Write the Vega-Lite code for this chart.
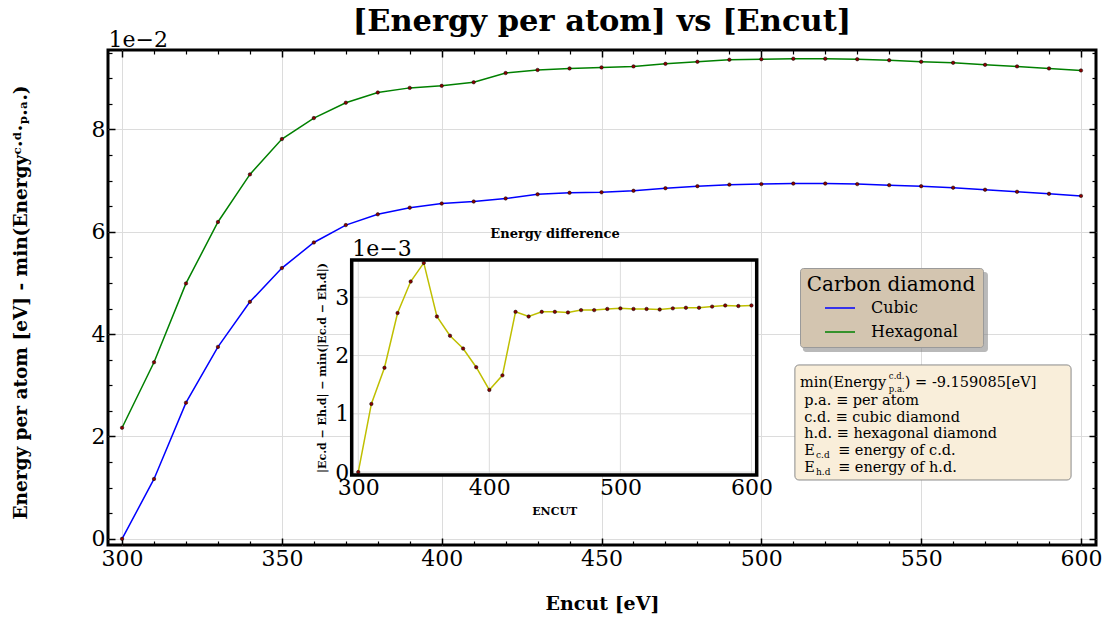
{
  "$schema": "https://vega.github.io/schema/vega-lite/v6.json",
  "width": 988,
  "height": 495,
  "autosize": "none",
  "padding": {"left": 108, "top": 50, "right": 15, "bottom": 73},
  "config": {
    "font": "DejaVu Serif",
    "view": {"stroke": "black", "strokeWidth": 3},
    "axis": {"labelFont": "DejaVu Serif", "titleFont": "DejaVu Serif", "labelColor": "black", "titleColor": "black", "tickColor": "black", "domain": false}
  },
  "title": {"text": "[Energy per atom] vs [Encut]", "font": "DejaVu Serif", "fontSize": 30.5, "fontWeight": "bold", "color": "black", "anchor": "middle", "baseline": "middle", "offset": -24},
  "datasets": {
    "main": [
      {"encut": 300, "structure": "Cubic", "e": 0.0},
      {"encut": 310, "structure": "Cubic", "e": 0.0117},
      {"encut": 320, "structure": "Cubic", "e": 0.0266},
      {"encut": 330, "structure": "Cubic", "e": 0.0375},
      {"encut": 340, "structure": "Cubic", "e": 0.0463},
      {"encut": 350, "structure": "Cubic", "e": 0.0529},
      {"encut": 360, "structure": "Cubic", "e": 0.0579},
      {"encut": 370, "structure": "Cubic", "e": 0.0613},
      {"encut": 380, "structure": "Cubic", "e": 0.0634},
      {"encut": 390, "structure": "Cubic", "e": 0.0647},
      {"encut": 400, "structure": "Cubic", "e": 0.0655},
      {"encut": 410, "structure": "Cubic", "e": 0.0659},
      {"encut": 420, "structure": "Cubic", "e": 0.0665},
      {"encut": 430, "structure": "Cubic", "e": 0.0673},
      {"encut": 440, "structure": "Cubic", "e": 0.0676},
      {"encut": 450, "structure": "Cubic", "e": 0.0677},
      {"encut": 460, "structure": "Cubic", "e": 0.0680},
      {"encut": 470, "structure": "Cubic", "e": 0.0685},
      {"encut": 480, "structure": "Cubic", "e": 0.0689},
      {"encut": 490, "structure": "Cubic", "e": 0.0692},
      {"encut": 500, "structure": "Cubic", "e": 0.0693},
      {"encut": 510, "structure": "Cubic", "e": 0.0694},
      {"encut": 520, "structure": "Cubic", "e": 0.0694},
      {"encut": 530, "structure": "Cubic", "e": 0.0693},
      {"encut": 540, "structure": "Cubic", "e": 0.0691},
      {"encut": 550, "structure": "Cubic", "e": 0.0689},
      {"encut": 560, "structure": "Cubic", "e": 0.0686},
      {"encut": 570, "structure": "Cubic", "e": 0.0682},
      {"encut": 580, "structure": "Cubic", "e": 0.0678},
      {"encut": 590, "structure": "Cubic", "e": 0.0674},
      {"encut": 600, "structure": "Cubic", "e": 0.0670},
      {"encut": 300, "structure": "Hexagonal", "e": 0.0217},
      {"encut": 310, "structure": "Hexagonal", "e": 0.0345},
      {"encut": 320, "structure": "Hexagonal", "e": 0.0499},
      {"encut": 330, "structure": "Hexagonal", "e": 0.0619},
      {"encut": 340, "structure": "Hexagonal", "e": 0.0712},
      {"encut": 350, "structure": "Hexagonal", "e": 0.0781},
      {"encut": 360, "structure": "Hexagonal", "e": 0.0822},
      {"encut": 370, "structure": "Hexagonal", "e": 0.0852},
      {"encut": 380, "structure": "Hexagonal", "e": 0.0872},
      {"encut": 390, "structure": "Hexagonal", "e": 0.0881},
      {"encut": 400, "structure": "Hexagonal", "e": 0.0885},
      {"encut": 410, "structure": "Hexagonal", "e": 0.0892},
      {"encut": 420, "structure": "Hexagonal", "e": 0.0910},
      {"encut": 430, "structure": "Hexagonal", "e": 0.0916},
      {"encut": 440, "structure": "Hexagonal", "e": 0.0919},
      {"encut": 450, "structure": "Hexagonal", "e": 0.0921},
      {"encut": 460, "structure": "Hexagonal", "e": 0.0923},
      {"encut": 470, "structure": "Hexagonal", "e": 0.0928},
      {"encut": 480, "structure": "Hexagonal", "e": 0.0932},
      {"encut": 490, "structure": "Hexagonal", "e": 0.0936},
      {"encut": 500, "structure": "Hexagonal", "e": 0.0937},
      {"encut": 510, "structure": "Hexagonal", "e": 0.0938},
      {"encut": 520, "structure": "Hexagonal", "e": 0.0938},
      {"encut": 530, "structure": "Hexagonal", "e": 0.0937},
      {"encut": 540, "structure": "Hexagonal", "e": 0.0935},
      {"encut": 550, "structure": "Hexagonal", "e": 0.0932},
      {"encut": 560, "structure": "Hexagonal", "e": 0.0930},
      {"encut": 570, "structure": "Hexagonal", "e": 0.0926},
      {"encut": 580, "structure": "Hexagonal", "e": 0.0923},
      {"encut": 590, "structure": "Hexagonal", "e": 0.0919},
      {"encut": 600, "structure": "Hexagonal", "e": 0.0915}
    ],
    "diff": [
      {"encut": 300, "d": 0.0},
      {"encut": 310, "d": 0.00117},
      {"encut": 320, "d": 0.00179},
      {"encut": 330, "d": 0.00273},
      {"encut": 340, "d": 0.00327},
      {"encut": 350, "d": 0.00359},
      {"encut": 360, "d": 0.00267},
      {"encut": 370, "d": 0.00234},
      {"encut": 380, "d": 0.00212},
      {"encut": 390, "d": 0.00180},
      {"encut": 400, "d": 0.00141},
      {"encut": 410, "d": 0.00166},
      {"encut": 420, "d": 0.00275},
      {"encut": 430, "d": 0.00267},
      {"encut": 440, "d": 0.00275},
      {"encut": 450, "d": 0.00275},
      {"encut": 460, "d": 0.00274},
      {"encut": 470, "d": 0.00278},
      {"encut": 480, "d": 0.00278},
      {"encut": 490, "d": 0.00280},
      {"encut": 500, "d": 0.00281},
      {"encut": 510, "d": 0.00280},
      {"encut": 520, "d": 0.00280},
      {"encut": 530, "d": 0.00279},
      {"encut": 540, "d": 0.00281},
      {"encut": 550, "d": 0.00282},
      {"encut": 560, "d": 0.00282},
      {"encut": 570, "d": 0.00284},
      {"encut": 580, "d": 0.00286},
      {"encut": 590, "d": 0.00285},
      {"encut": 600, "d": 0.00286}
    ],
    "one": [{}]
  },
  "layer": [
    {
      "layer": [
        {
          "data": {"name": "main"},
          "mark": {"type": "line", "strokeWidth": 1.5},
          "encoding": {
            "x": {"field": "encut", "type": "quantitative",
              "scale": {"domain": [295.6, 604.7], "nice": false, "zero": false},
              "axis": {"orient": "bottom", "values": [300, 350, 400, 450, 500, 550, 600], "format": "d", "grid": true, "gridColor": "#dcdcdc", "gridWidth": 1, "tickSize": -7, "tickWidth": 1.5, "labelFontSize": 22, "labelPadding": 10, "labelFlush": false, "labelOverlap": false, "title": "Encut [eV]", "titleFontSize": 19, "titleFontWeight": "bold", "titleX": 494, "titleY": 58, "titleBaseline": "middle", "titleAlign": "center"}},
            "y": {"field": "e", "type": "quantitative",
              "scale": {"domain": [-0.0012, 0.0955], "nice": false, "zero": false},
              "axis": {"orient": "left", "values": [0, 0.02, 0.04, 0.06, 0.08], "labelExpr": "'' + round(datum.value*100)", "grid": true, "gridColor": "#dcdcdc", "gridWidth": 1, "tickSize": -7, "tickWidth": 1.5, "labelFontSize": 22, "labelPadding": 10, "labelAlign": "right", "labelFlush": false, "labelOverlap": false, "title": "Energy per atom [eV] - min(Energyᶜ·ᵈ·ₚ.ₐ.)", "titleFontSize": 18.5, "titleFontWeight": "bold", "titleX": -88, "titleY": 252, "titleAngle": 270, "titleAlign": "center", "titleBaseline": "middle"}},
            "color": {"field": "structure", "type": "nominal",
              "scale": {"domain": ["Cubic", "Hexagonal"], "range": ["#0000ff", "#008000"]},
              "legend": {"title": "Carbon diamond", "orient": "none", "legendX": 692, "legendY": 218, "fillColor": "#d3c5b0", "strokeColor": "#9a9a9a", "cornerRadius": 3, "padding": 7, "titleFont": "DejaVu Serif", "titleFontSize": 20, "titleFontWeight": "normal", "titleColor": "black", "titleAnchor": "middle", "titlePadding": -3, "labelFont": "DejaVu Serif", "labelFontSize": 16, "labelColor": "black", "symbolType": "stroke", "symbolSize": 900, "symbolStrokeWidth": 1.5, "rowPadding": 0, "labelOffset": 15}}
          }
        },
        {
          "data": {"name": "main"},
          "mark": {"type": "point", "filled": true, "fill": "#8b0000", "stroke": "black", "strokeWidth": 0.5, "size": 12, "opacity": 1},
          "encoding": {
            "x": {"field": "encut", "type": "quantitative",
              "axis": {"orient": "bottom", "values": [310, 320, 330, 340, 360, 370, 380, 390, 410, 420, 430, 440, 460, 470, 480, 490, 510, 520, 530, 540, 560, 570, 580, 590], "labels": false, "grid": false, "tickSize": -4, "tickWidth": 1.2, "title": null}},
            "y": {"field": "e", "type": "quantitative",
              "axis": {"orient": "left", "values": [0.005, 0.01, 0.015, 0.025, 0.03, 0.035, 0.045, 0.05, 0.055, 0.065, 0.07, 0.075, 0.085, 0.09, 0.095], "labels": false, "grid": false, "tickSize": -4, "tickWidth": 1.2, "title": null}}
          }
        },
        {
          "data": {"name": "one"},
          "mark": {"type": "rect", "fill": "#7f7f7f", "opacity": 0.55, "cornerRadius": 3},
          "encoding": {
            "x": {"datum": 513.0, "type": "quantitative", "axis": null},
            "x2": {"datum": 570.9},
            "y": {"datum": 0.05213, "type": "quantitative", "axis": null},
            "y2": {"datum": 0.0365}
          }
        },
        {
          "data": {"name": "one"},
          "mark": {"type": "rect", "fill": "#f9eeda", "stroke": "#8a8a8a", "strokeWidth": 1, "cornerRadius": 4},
          "encoding": {
            "x": {"datum": 510.5, "type": "quantitative",
              "axis": {"orient": "top", "values": [300, 350, 400, 450, 500, 550, 600], "labels": false, "grid": false, "tickSize": -7, "tickWidth": 1.5, "title": "1e−2", "titleFontSize": 22, "titleFontWeight": "normal", "titleAngle": 0, "titleX": 0, "titleY": -11, "titleAlign": "left", "titleBaseline": "middle"}},
            "x2": {"datum": 596.9},
            "y": {"datum": 0.03397, "type": "quantitative",
              "axis": {"orient": "right", "values": [0, 0.02, 0.04, 0.06, 0.08], "labels": false, "grid": false, "tickSize": -7, "tickWidth": 1.5, "title": null}},
            "y2": {"datum": 0.0115}
          }
        },
        {
          "data": {"name": "one"},
          "mark": {"type": "text", "align": "left", "baseline": "alphabetic", "fontSize": 14.5, "font": "DejaVu Serif", "color": "black", "text": "min(Energy"},
          "encoding": {
            "x": {"datum": 512.1, "type": "quantitative",
              "axis": {"orient": "top", "values": [310, 320, 330, 340, 360, 370, 380, 390, 410, 420, 430, 440, 460, 470, 480, 490, 510, 520, 530, 540, 560, 570, 580, 590], "labels": false, "grid": false, "tickSize": -4, "tickWidth": 1.2, "title": null}},
            "y": {"datum": 0.02967, "type": "quantitative",
              "axis": {"orient": "right", "values": [0.005, 0.01, 0.015, 0.025, 0.03, 0.035, 0.045, 0.05, 0.055, 0.065, 0.07, 0.075, 0.085, 0.09, 0.095], "labels": false, "grid": false, "tickSize": -4, "tickWidth": 1.2, "title": null}}
          }
        },
        {
          "data": {"name": "one"},
          "mark": {"type": "text", "align": "left", "baseline": "alphabetic", "fontSize": 8.5, "font": "DejaVu Serif", "color": "black", "text": "c.d."},
          "encoding": {
            "x": {"datum": 539.9, "type": "quantitative", "axis": null},
            "y": {"datum": 0.03115, "type": "quantitative", "axis": null}
          }
        },
        {
          "data": {"name": "one"},
          "mark": {"type": "text", "align": "left", "baseline": "alphabetic", "fontSize": 8.5, "font": "DejaVu Serif", "color": "black", "text": "p.a."},
          "encoding": {
            "x": {"datum": 539.9, "type": "quantitative", "axis": null},
            "y": {"datum": 0.02869, "type": "quantitative", "axis": null}
          }
        },
        {
          "data": {"name": "one"},
          "mark": {"type": "text", "align": "left", "baseline": "alphabetic", "fontSize": 14.5, "font": "DejaVu Serif", "color": "black", "text": ") = -9.159085[eV]"},
          "encoding": {
            "x": {"datum": 544.9, "type": "quantitative", "axis": null},
            "y": {"datum": 0.02967, "type": "quantitative", "axis": null}
          }
        },
        {
          "data": {"name": "one"},
          "mark": {"type": "text", "align": "left", "baseline": "alphabetic", "fontSize": 14.5, "font": "DejaVu Serif", "color": "black", "lineHeight": 16.6, "text": ["p.a. ≡ per atom", "c.d. ≡ cubic diamond", "h.d. ≡ hexagonal diamond"]},
          "encoding": {
            "x": {"datum": 513.4, "type": "quantitative", "axis": null},
            "y": {"datum": 0.02615, "type": "quantitative", "axis": null}
          }
        },
        {
          "data": {"name": "one"},
          "mark": {"type": "text", "align": "left", "baseline": "alphabetic", "fontSize": 14.5, "font": "DejaVu Serif", "color": "black", "lineHeight": 17.3, "text": ["E", "E"]},
          "encoding": {
            "x": {"datum": 513.4, "type": "quantitative", "axis": null},
            "y": {"datum": 0.01638, "type": "quantitative", "axis": null}
          }
        },
        {
          "data": {"name": "one"},
          "mark": {"type": "text", "align": "left", "baseline": "alphabetic", "fontSize": 9, "font": "DejaVu Serif", "color": "black", "lineHeight": 17.3, "text": ["c.d", "h.d"]},
          "encoding": {
            "x": {"datum": 517.1, "type": "quantitative", "axis": null},
            "y": {"datum": 0.0158, "type": "quantitative", "axis": null}
          }
        },
        {
          "data": {"name": "one"},
          "mark": {"type": "text", "align": "left", "baseline": "alphabetic", "fontSize": 14.5, "font": "DejaVu Serif", "color": "black", "lineHeight": 17.3, "text": ["≡ energy of c.d.", "≡ energy of h.d."]},
          "encoding": {
            "x": {"datum": 524.0, "type": "quantitative", "axis": null},
            "y": {"datum": 0.01638, "type": "quantitative", "axis": null}
          }
        }
      ],
      "resolve": {"axis": {"x": "independent", "y": "independent"}}
    },
    {
      "layer": [
        {
          "data": {"name": "one"},
          "mark": {"type": "rect", "fill": "white", "strokeWidth": 0},
          "encoding": {
            "x": {"datum": 295, "type": "quantitative",
              "scale": {"domain": [295, 604], "range": [243.7, 648.7], "nice": false, "zero": false},
              "axis": {"orient": "bottom", "offset": -70, "values": [300, 400, 500, 600], "format": "d", "grid": false, "tickSize": -7, "tickWidth": 1.5, "labelFontSize": 22, "labelPadding": 9, "labelFlush": false, "labelOverlap": false, "title": "ENCUT", "titleFontSize": 11, "titleFontWeight": "bold", "titleX": 446.2, "titleY": 36, "titleAlign": "center", "titleBaseline": "middle"}},
            "x2": {"datum": 604},
            "y": {"datum": -0.00005, "type": "quantitative",
              "scale": {"domain": [-0.00005, 0.00364], "range": [425, 210], "nice": false, "zero": false},
              "axis": {"orient": "left", "offset": -243.7, "values": [0, 0.001, 0.002, 0.003], "labelExpr": "'' + round(datum.value*1000)", "grid": false, "tickSize": -7, "tickWidth": 1.5, "labelFontSize": 22, "labelPadding": 10, "labelAlign": "right", "labelFlush": false, "labelOverlap": false, "title": "|Ec.d − Eh.d| − min(|Ec.d − Eh.d|)", "titleFontSize": 11, "titleFontWeight": "bold", "titleX": -29.7, "titleY": 317.5, "titleAngle": 270, "titleAlign": "center", "titleBaseline": "middle"}},
            "y2": {"datum": 0.00364}
          }
        },
        {"data": {"name": "one"}, "mark": {"type": "rule", "color": "#dcdcdc", "strokeWidth": 1}, "encoding": {"x": {"datum": 300, "type": "quantitative", "axis": null}, "y": {"datum": -0.00005, "type": "quantitative", "axis": null}, "y2": {"datum": 0.00364}}},
        {"data": {"name": "one"}, "mark": {"type": "rule", "color": "#dcdcdc", "strokeWidth": 1}, "encoding": {"x": {"datum": 400, "type": "quantitative", "axis": null}, "y": {"datum": -0.00005, "type": "quantitative", "axis": null}, "y2": {"datum": 0.00364}}},
        {"data": {"name": "one"}, "mark": {"type": "rule", "color": "#dcdcdc", "strokeWidth": 1}, "encoding": {"x": {"datum": 500, "type": "quantitative", "axis": null}, "y": {"datum": -0.00005, "type": "quantitative", "axis": null}, "y2": {"datum": 0.00364}}},
        {"data": {"name": "one"}, "mark": {"type": "rule", "color": "#dcdcdc", "strokeWidth": 1}, "encoding": {"x": {"datum": 600, "type": "quantitative", "axis": null}, "y": {"datum": -0.00005, "type": "quantitative", "axis": null}, "y2": {"datum": 0.00364}}},
        {"data": {"name": "one"}, "mark": {"type": "rule", "color": "#dcdcdc", "strokeWidth": 1}, "encoding": {"y": {"datum": 0, "type": "quantitative", "axis": null}, "x": {"datum": 295, "type": "quantitative", "axis": null}, "x2": {"datum": 604}}},
        {"data": {"name": "one"}, "mark": {"type": "rule", "color": "#dcdcdc", "strokeWidth": 1}, "encoding": {"y": {"datum": 0.001, "type": "quantitative", "axis": null}, "x": {"datum": 295, "type": "quantitative", "axis": null}, "x2": {"datum": 604}}},
        {"data": {"name": "one"}, "mark": {"type": "rule", "color": "#dcdcdc", "strokeWidth": 1}, "encoding": {"y": {"datum": 0.002, "type": "quantitative", "axis": null}, "x": {"datum": 295, "type": "quantitative", "axis": null}, "x2": {"datum": 604}}},
        {"data": {"name": "one"}, "mark": {"type": "rule", "color": "#dcdcdc", "strokeWidth": 1}, "encoding": {"y": {"datum": 0.003, "type": "quantitative", "axis": null}, "x": {"datum": 295, "type": "quantitative", "axis": null}, "x2": {"datum": 604}}},
        {
          "data": {"name": "diff"},
          "mark": {"type": "line", "color": "#bfbf00", "strokeWidth": 1.5},
          "encoding": {
            "x": {"field": "encut", "type": "quantitative",
              "axis": {"orient": "bottom", "offset": -70, "values": [320, 340, 360, 380, 420, 440, 460, 480, 520, 540, 560, 580], "labels": false, "grid": false, "tickSize": -4, "tickWidth": 1.2, "title": null}},
            "y": {"field": "d", "type": "quantitative",
              "axis": {"orient": "left", "offset": -243.7, "values": [0.0002, 0.0004, 0.0006, 0.0008, 0.0012, 0.0014, 0.0016, 0.0018, 0.0022, 0.0024, 0.0026, 0.0028, 0.0032, 0.0034, 0.0036], "labels": false, "grid": false, "tickSize": -4, "tickWidth": 1.2, "title": null}}
          }
        },
        {
          "data": {"name": "diff"},
          "mark": {"type": "point", "filled": true, "fill": "#8b0000", "stroke": "black", "strokeWidth": 0.5, "size": 12, "opacity": 1},
          "encoding": {
            "x": {"field": "encut", "type": "quantitative",
              "axis": {"orient": "top", "offset": -210, "values": [300, 400, 500, 600], "labels": false, "grid": false, "tickSize": -7, "tickWidth": 1.5, "title": "1e−3", "titleFontSize": 22, "titleFontWeight": "normal", "titleAngle": 0, "titleX": 243.7, "titleY": -12, "titleAlign": "left", "titleBaseline": "middle"}},
            "y": {"field": "d", "type": "quantitative",
              "axis": {"orient": "right", "offset": -339.3, "values": [0, 0.001, 0.002, 0.003], "labels": false, "grid": false, "tickSize": -7, "tickWidth": 1.5, "title": null}}
          }
        },
        {
          "data": {"name": "one"},
          "mark": {"type": "rect", "filled": false, "color": "black", "strokeWidth": 3.5},
          "encoding": {
            "x": {"datum": 295, "type": "quantitative",
              "axis": {"orient": "top", "offset": -210, "values": [320, 340, 360, 380, 420, 440, 460, 480, 520, 540, 560, 580], "labels": false, "grid": false, "tickSize": -4, "tickWidth": 1.2, "title": null}},
            "x2": {"datum": 604},
            "y": {"datum": -0.00005, "type": "quantitative",
              "axis": {"orient": "right", "offset": -339.3, "values": [0.0002, 0.0004, 0.0006, 0.0008, 0.0012, 0.0014, 0.0016, 0.0018, 0.0022, 0.0024, 0.0026, 0.0028, 0.0032, 0.0034, 0.0036], "labels": false, "grid": false, "tickSize": -4, "tickWidth": 1.2, "title": null}},
            "y2": {"datum": 0.00364}
          }
        },
        {
          "data": {"name": "one"},
          "mark": {"type": "text", "align": "center", "baseline": "middle", "fontSize": 13, "fontWeight": "bold", "font": "DejaVu Serif", "color": "black", "text": "Energy difference"},
          "encoding": {
            "x": {"datum": 450.1, "type": "quantitative", "axis": null},
            "y": {"datum": 0.004086, "type": "quantitative", "axis": null}
          }
        }
      ],
      "resolve": {"axis": {"x": "independent", "y": "independent"}}
    }
  ],
  "resolve": {"scale": {"x": "independent", "y": "independent"}, "axis": {"x": "independent", "y": "independent"}}
}
